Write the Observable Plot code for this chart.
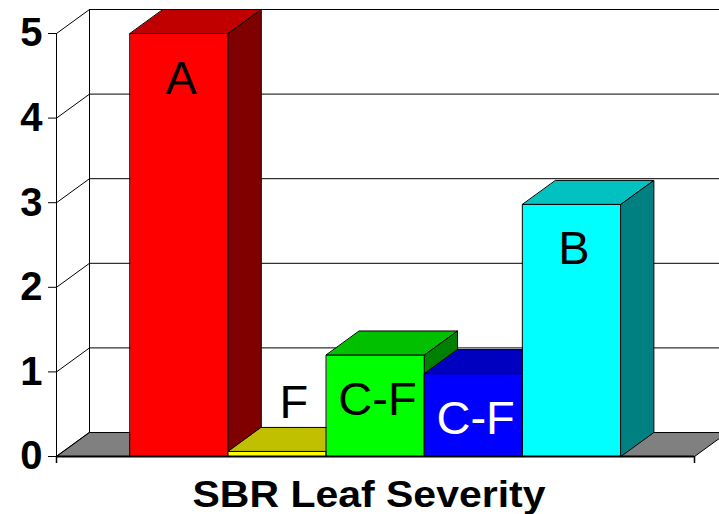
<!DOCTYPE html>
<html>
<head>
<meta charset="utf-8">
<script src="https://cdn.jsdelivr.net/npm/d3@7"></script>
<script src="https://cdn.jsdelivr.net/npm/@observablehq/plot@0.6"></script>
<style>
html, body { margin: 0; padding: 0; background: #fff; }
svg { display: block; }
</style>
</head>
<body>
<div id="chart"></div>
<script>
// ---- data ----
const letters = ["A", "F", "C-F", "C-F", "B"];
const severity = [5.0, 0.06, 1.2, 0.98, 2.98];
const yTicks = [0, 1, 2, 3, 4, 5];
const categoryLabel = "SBR Leaf Severity";

// ---- styles ----
const frontColors = ["#ff0000", "#ffff00", "#00ff00", "#0000ff", "#00ffff"];
const topColors   = ["#c00000", "#c0c000", "#00c000", "#0000c0", "#00c0c0"];
const sideColors  = ["#800000", "#808000", "#008000", "#000080", "#008080"];

const W = 719, H = 514, mL = 56, mR = 25, mT = 33, mB = 58;
const xMin = -0.75, xMax = letters.length + 0.75;
const yMax = d3.max(yTicks);
const pxX = (W - mL - mR) / (xMax - xMin);
const pxY = (H - mT - mB) / yMax;
const ox = 33 / pxX, oy = 24 / pxY;   // depth offset in data units

const bars = severity.map((v, i) => ({i, v, text: letters[i]}));

const faces = [];
bars.forEach(({i, v}) => {
  const x1 = i, x2 = i + 1;
  const add = (id, color, pts) => pts.forEach(([x, y]) => faces.push({id, color, x, y}));
  add(`f${i}`, frontColors[i], [[x1, 0], [x2, 0], [x2, v], [x1, v]]);
  add(`t${i}`, topColors[i], [[x1, v], [x2, v], [x2 + ox, v + oy], [x1 + ox, v + oy]]);
  add(`s${i}`, sideColors[i], [[x2, 0], [x2 + ox, oy], [x2 + ox, v + oy], [x2, v]]);
});
const floor = [[xMin, 0], [xMax, 0], [xMax + ox, oy], [xMin + ox, oy]].map(([x, y]) => ({x, y}));

const labelFill = d => d3.lab(frontColors[d.i]).l < 40 ? "white" : "black";

const svg = Plot.plot({
  width: W, height: H,
  marginLeft: mL, marginRight: mR, marginTop: mT, marginBottom: mB,
  x: {domain: [xMin, xMax]},
  y: {domain: [0, yMax]},
  color: {type: "identity"},
  style: {fontFamily: "'Liberation Sans', Arial, sans-serif", background: "white", color: "black"},
  marks: [
    Plot.line(floor, {x: "x", y: "y", fill: "#808080", stroke: "black", strokeWidth: 1, curve: "linear-closed"}),
    Plot.link(yTicks, {x1: xMin, x2: xMin + ox, y1: d => d, y2: d => d + oy, stroke: "black", strokeWidth: 1}),
    Plot.ruleY(yTicks, {y: d => d + oy, x1: xMin + ox, x2: xMax + ox + 1, stroke: "black", strokeWidth: 1}),
    Plot.ruleX([xMin + ox], {y1: oy, y2: yMax + oy, stroke: "black", strokeWidth: 1}),
    Plot.ruleX([xMin], {y1: 0, y2: yMax, stroke: "black", strokeWidth: 1}),
    Plot.line(faces, {x: "x", y: "y", z: "id", fill: "color", stroke: "black", strokeWidth: 1, curve: "linear-closed", strokeLinejoin: "miter"}),
    Plot.ruleY([0], {x1: xMin, x2: xMax, stroke: "black", strokeWidth: 2}),
    Plot.axisY({ticks: yTicks, tickFormat: "d", tickSize: 8, tickPadding: 6, fontSize: 40, fontWeight: "bold", label: null, stroke: "black"}),
    Plot.axisX({ticks: [xMin, xMax], tickSize: 7, tickFormat: () => "", label: null, stroke: "black", strokeWidth: 1.5}),
    Plot.text(bars.filter(d => d.v >= 0.5), {x: d => d.i + 0.5, y: "v", text: "text", dy: 45, dx: 2, fill: labelFill, fontSize: 47}),
    Plot.text(bars.filter(d => d.v < 0.5), {x: d => d.i + 0.5 + ox / 2, y: d => d.v + oy, text: "text", dy: -24, fill: labelFill, fontSize: 47}),
    Plot.text([categoryLabel], {frameAnchor: "bottom", text: d => d, dy: 50, dx: -6.5, fontSize: 37, fontWeight: "bold", fill: "black"})
  ]
});

d3.select(svg).selectAll("text").filter(function() { return this.textContent === categoryLabel; })
  .attr("textLength", 353).attr("lengthAdjust", "spacingAndGlyphs");

document.getElementById("chart").appendChild(svg);
</script>
</body>
</html>
